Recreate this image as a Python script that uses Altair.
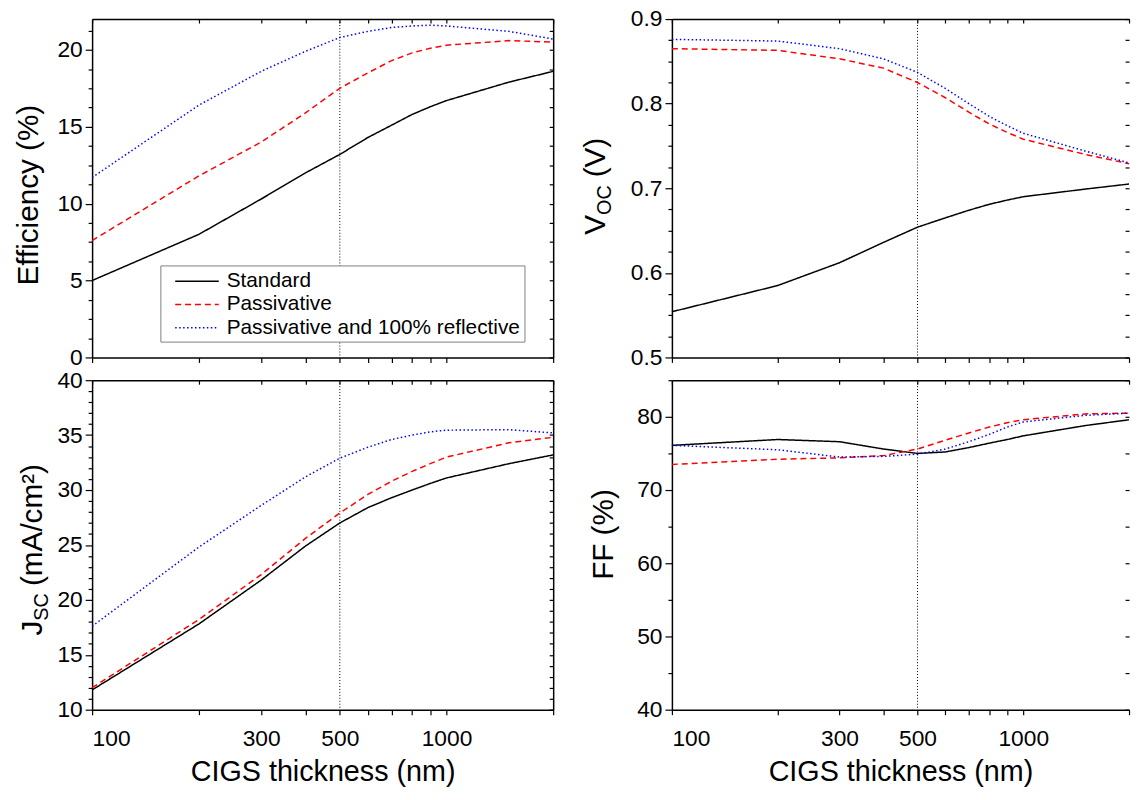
import altair as alt
import pandas as pd

thickness = [100, 200, 300, 400, 500, 600, 700, 800, 900, 1000, 1500, 2000]
series = ["Standard", "Passivative", "Passivative and 100% reflective"]

eff_std = [5.0, 8.0, 10.3, 12.0, 13.2, 14.3, 15.1, 15.8, 16.3, 16.7, 17.9, 18.6]
eff_pas = [7.6, 11.8, 14.0, 15.9, 17.5, 18.5, 19.3, 19.8, 20.1, 20.3, 20.6, 20.5]
eff_ref = [11.7, 16.4, 18.6, 19.9, 20.8, 21.2, 21.45, 21.55, 21.6, 21.55, 21.2, 20.7]

voc_std = [0.554, 0.585, 0.612, 0.636, 0.654, 0.665, 0.674, 0.681, 0.686, 0.690, 0.699, 0.705]
voc_pas = [0.865, 0.863, 0.853, 0.842, 0.825, 0.807, 0.790, 0.776, 0.766, 0.758, 0.740, 0.729]
voc_ref = [0.876, 0.874, 0.865, 0.853, 0.837, 0.818, 0.800, 0.785, 0.774, 0.765, 0.744, 0.730]

jsc_std = [11.8, 17.8, 21.8, 24.9, 27.0, 28.4, 29.3, 30.0, 30.6, 31.1, 32.4, 33.2]
jsc_pas = [12.0, 18.2, 22.3, 25.6, 27.9, 29.6, 30.8, 31.7, 32.4, 33.0, 34.3, 34.8]
jsc_ref = [17.6, 24.8, 28.6, 31.2, 32.9, 33.9, 34.6, 35.0, 35.3, 35.45, 35.5, 35.2]

ff_std = [76.1, 76.9, 76.6, 75.6, 75.0, 75.2, 75.8, 76.4, 76.9, 77.4, 78.8, 79.6]
ff_pas = [73.5, 74.2, 74.4, 74.7, 75.6, 76.8, 77.8, 78.6, 79.2, 79.6, 80.4, 80.5]
ff_ref = [76.1, 75.5, 74.5, 74.6, 74.9, 75.6, 76.6, 77.6, 78.6, 79.3, 80.2, 80.5]

x_major = [100, 300, 500, 1000]
x_minor = [200, 400, 600, 700, 800, 900, 2000]
marker_x = [500]

FONT = "Liberation Sans"
INWARD = alt.ExprRef(expr="-4")


def long_df(a, b, c):
    rows = []
    for s, vals in zip(series, [a, b, c]):
        for t, v in zip(thickness, vals):
            rows.append({"t": t, "v": v, "s": s})
    return pd.DataFrame(rows)


def frange(a, b, step):
    out = []
    v = a
    while v <= b + 1e-9:
        out.append(round(v, 4))
        v += step
    return out


def panel(df, ydom, ymajor, ystep_minor, yfmt, w, h, title_parts, legend=False,
          right_domain=True, xlabels=True):
    xscale = alt.Scale(type="log", domain=[100, 2000], nice=False)
    yscale = alt.Scale(domain=ydom, nice=False, zero=False)
    yall = frange(ydom[0], ydom[1], ystep_minor)
    yminor = [v for v in yall if all(abs(v - m) > 1e-6 for m in ymajor)]

    if legend:
        leg = alt.Legend(title=None, orient="none", legendX=69, legendY=249,
                         symbolType="M-2,0H2", symbolSize=484, symbolStrokeWidth=1.5,
                         symbolOffset=21, labelOffset=18,
                         labelFontSize=21, labelFont=FONT, labelColor="black",
                         strokeColor="#808080", fillColor="white", padding=4,
                         rowPadding=1.5, labelLimit=400)
    else:
        leg = None

    if xlabels:
        xaxis = alt.Axis(values=x_major, title="CIGS thickness (nm)", orient="bottom",
                         tickSize=5, labelPadding=13, titlePadding=8, format="d")
    else:
        xaxis = alt.Axis(values=x_major, title=None, orient="bottom", tickSize=5,
                         labels=False)

    lines = alt.Chart(df).mark_line(strokeWidth=1.5).encode(
        x=alt.X("t:Q", scale=xscale, axis=xaxis),
        y=alt.Y("v:Q", scale=yscale,
                axis=alt.Axis(values=ymajor, title=None, orient="left", tickSize=7,
                              labelPadding=3, format=yfmt)),
        color=alt.Color("s:N", scale=alt.Scale(domain=series, range=["black", "red", "blue"]),
                        legend=leg),
        strokeDash=alt.StrokeDash("s:N", scale=alt.Scale(domain=series,
                                  range=[[1, 0], [6, 4], [1.5, 2.5]]), legend=leg),
    )

    minor = alt.Chart(df).mark_point(opacity=0).encode(
        x=alt.X("t:Q", scale=xscale,
                axis=alt.Axis(values=x_minor, labels=False, domain=False, tickSize=5,
                              title=None, orient="bottom")),
        y=alt.Y("v:Q", scale=yscale,
                axis=alt.Axis(values=yminor, labels=False, domain=False, tickSize=4,
                              title=None, orient="left")),
    )

    mirror = alt.Chart(df).mark_point(opacity=0).encode(
        x=alt.X("t:Q", scale=xscale,
                axis=alt.Axis(values=x_major + x_minor, labels=False, domain=True,
                              tickSize=INWARD, title=None, orient="top")),
        y=alt.Y("v:Q", scale=yscale,
                axis=alt.Axis(values=yall, labels=False, domain=right_domain,
                              tickSize=INWARD, title=None, orient="right")),
    )

    vline = alt.Chart(pd.DataFrame({"t": marker_x})).mark_rule(
        color="black", strokeDash=[1, 2], strokeWidth=1
    ).encode(x=alt.X("t:Q", scale=xscale, axis=None))

    layers = [vline, lines, minor, mirror]
    for txt, size, px, py, align in title_parts:
        layers.append(
            alt.Chart(pd.DataFrame({"k": [0]})).mark_text(
                text=txt, fontSize=size, font=FONT, angle=270, align=align,
                baseline="alphabetic", color="black"
            ).encode(x=alt.value(px), y=alt.value(py))
        )

    return alt.layer(*layers).resolve_axis(x="independent", y="independent").properties(
        width=w, height=h
    )


WL, WR, HT, HB = 466, 462, 342, 333

tl = panel(long_df(eff_std, eff_pas, eff_ref), [0, 22], [0, 5, 10, 15, 20], 1.25, "d",
           WL, HT, [("Efficiency (%)", 30, -55, 178, "center")], legend=True, xlabels=False)
tr = panel(long_df(voc_std, voc_pas, voc_ref), [0.5, 0.9], [0.5, 0.6, 0.7, 0.8, 0.9], 0.025, ".1f",
           WR, HT, [("V", 30, -68, 218, "left"), ("OC", 20, -62, 198, "left"),
                    ("(V)", 30, -68, 160, "left")], right_domain=False, xlabels=False)
bl = panel(long_df(jsc_std, jsc_pas, jsc_ref), [10, 40], [10, 15, 20, 25, 30, 35, 40], 1, "d",
           WL, HB, [("J", 30, -51, 258, "left"), ("SC", 20, -45, 243, "left"),
                    ("(mA/cm²)", 30, -51, 208, "left")])
br = panel(long_df(ff_std, ff_pas, ff_ref), [40, 85], [40, 50, 60, 70, 80], 5, "d",
           WR, HB, [("FF (%)", 30, -60, 156, "center")], right_domain=False)

chart = alt.concat(tl, tr, bl, br, columns=2, spacing={"row": 23, "column": 120},
                   bounds="flush").resolve_legend(color="independent", strokeDash="independent")

chart = chart.properties(padding={"left": 6, "top": -4, "right": 0, "bottom": 0}).configure_view(
    stroke=None
).configure_axis(
    labelFont=FONT, titleFont=FONT, labelFontSize=23, titleFontSize=29,
    labelColor="black", titleColor="black", domainColor="black", tickColor="black",
    domainWidth=1.5, tickWidth=1.2, grid=False, titleFontWeight="normal"
)

chart.save("out.html", embed_options={"renderer": "svg", "actions": False})
